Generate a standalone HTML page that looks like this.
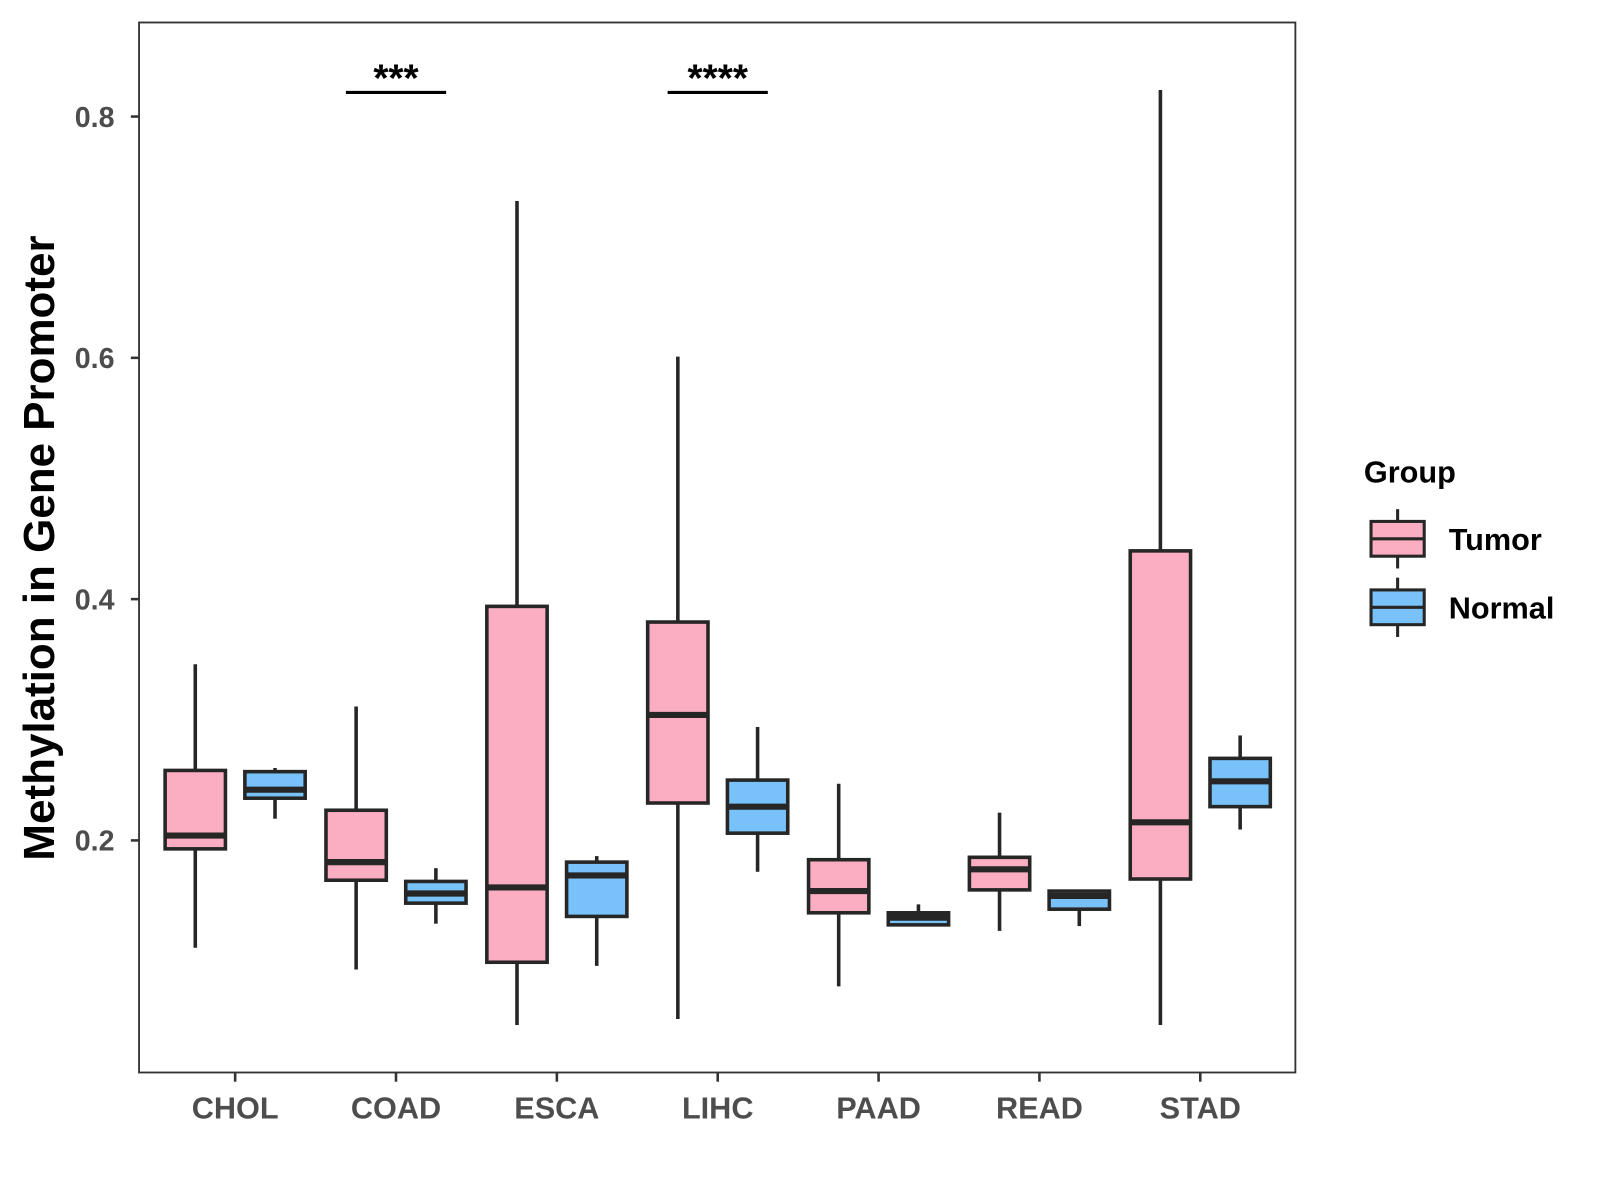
<!DOCTYPE html>
<html><head><meta charset="utf-8"><style>
body{margin:0;background:#fff}
svg{display:block;font-family:"Liberation Sans",Arial,sans-serif}
</style></head><body>
<svg id="chart" width="1600" height="1200" viewBox="0 0 1600 1200"><g id="root" transform="scale(1.0224)"></g></svg>
<script>
const categories=["CHOL","COAD","ESCA","LIHC","PAAD","READ","STAD"];
// [low, q1, median, q3, high]
const tumorStats=[[0.111,0.193,0.204,0.258,0.346],[0.093,0.167,0.182,0.225,0.311],[0.047,0.099,0.161,0.394,0.730],[0.052,0.231,0.304,0.381,0.601],[0.079,0.140,0.158,0.184,0.247],[0.125,0.159,0.176,0.186,0.223],[0.047,0.168,0.215,0.440,0.822]];
const normalStats=[[0.218,0.235,0.242,0.257,0.260],[0.131,0.148,0.156,0.166,0.177],[0.096,0.137,0.171,0.182,0.187],[0.174,0.206,0.228,0.250,0.294],[0.130,0.130,0.136,0.140,0.147],[0.129,0.143,0.154,0.158,0.158],[0.209,0.228,0.249,0.268,0.287]];
const yTicks=[0.2,0.4,0.6,0.8];
const yTickLabels=["0.2","0.4","0.6","0.8"];
const sigCategories=["COAD","LIHC"];
const sigLabels=["***","****"];
const sigLevel=0.82;

const NS="http://www.w3.org/2000/svg";
const svg=document.getElementById("root");
const P={l:136,r:1267,t:22,b:1049};
const y=v=>822-(v-0.2)*1180;
const x=i=>230+i*157.33;
function el(tag,attrs,parent){const e=document.createElementNS(NS,tag);for(const k in attrs)e.setAttribute(k,attrs[k]);(parent||svg).appendChild(e);return e;}
function txt(s,attrs,parent){const e=el("text",attrs,parent);e.textContent=s;return e;}

const panel=el("rect",{x:P.l,y:P.t,width:P.r-P.l,height:P.b-P.t,fill:"none",stroke:"#333","stroke-width":1.8});



yTicks.forEach((t,i)=>{
  el("line",{x1:128,x2:P.l,y1:y(t),y2:y(t),stroke:"#333","stroke-width":2.5});
  const l=txt(yTickLabels[i],{x:112,y:y(t)+10,"text-anchor":"end","font-size":28,"font-weight":"bold",fill:"#4d4d4d"});
  
  
});
categories.forEach((c,i)=>{
  el("line",{x1:x(i),x2:x(i),y1:P.b,y2:P.b+9,stroke:"#333","stroke-width":2.5});
  const l=txt(c,{x:x(i),y:1094,"text-anchor":"middle","font-size":30,"font-weight":"bold",fill:"#4d4d4d"});
  
  
});
const yt=txt("Methylation in Gene Promoter",{x:0,y:0,transform:"translate(53,536) rotate(-90)","text-anchor":"middle","font-size":43,"font-weight":"bold",fill:"#000"});



function box(s,cx,fill,name){
  const g=el("g",{});
  
  
  const w=59,st={stroke:"#262626","stroke-width":3.5};
  el("line",Object.assign({x1:cx,x2:cx,y1:y(s[4]),y2:y(s[3])},st),g);
  el("line",Object.assign({x1:cx,x2:cx,y1:y(s[1]),y2:y(s[0])},st),g);
  el("rect",Object.assign({x:cx-w/2,y:y(s[3]),width:w,height:Math.max(0,y(s[1])-y(s[3])),fill:fill},st),g);
  el("line",{x1:cx-w/2,x2:cx+w/2,y1:y(s[2]),y2:y(s[2]),stroke:"#262626","stroke-width":6},g);
}
categories.forEach((c,i)=>{
  box(tumorStats[i],x(i)-39,"#FBAEC1","box-tumor-"+c.toLowerCase());
  box(normalStats[i],x(i)+39,"#79C2F9","box-normal-"+c.toLowerCase());
});
sigCategories.forEach((c,k)=>{
  const i=categories.indexOf(c);
  const g=el("g",{});
  
  
  el("line",{x1:x(i)-49,x2:x(i)+49,y1:y(sigLevel),y2:y(sigLevel),stroke:"#000","stroke-width":3},g);
  txt(sigLabels[k],{x:x(i),y:y(sigLevel)-1,"text-anchor":"middle","font-size":38,"font-weight":"bold"},g);
});
// legend
const lg=el("g",{});


txt("Group",{x:1334,y:472,"font-size":30,"font-weight":"bold"},lg);
[["Tumor","#FBAEC1",527],["Normal","#79C2F9",594]].forEach(([n,f,cy])=>{
  const g=el("g",{},lg);
  
  
  el("line",{x1:1367,x2:1367,y1:cy-29,y2:cy+29,stroke:"#262626","stroke-width":3},g);
  el("rect",{x:1341,y:cy-17,width:52,height:34,fill:f,stroke:"#262626","stroke-width":3},g);
  el("line",{x1:1341,x2:1393,y1:cy,y2:cy,stroke:"#262626","stroke-width":3},g);
  txt(n,{x:1417,y:cy+11,"font-size":30,"font-weight":"bold"},g);
});
</script>
</body></html>
